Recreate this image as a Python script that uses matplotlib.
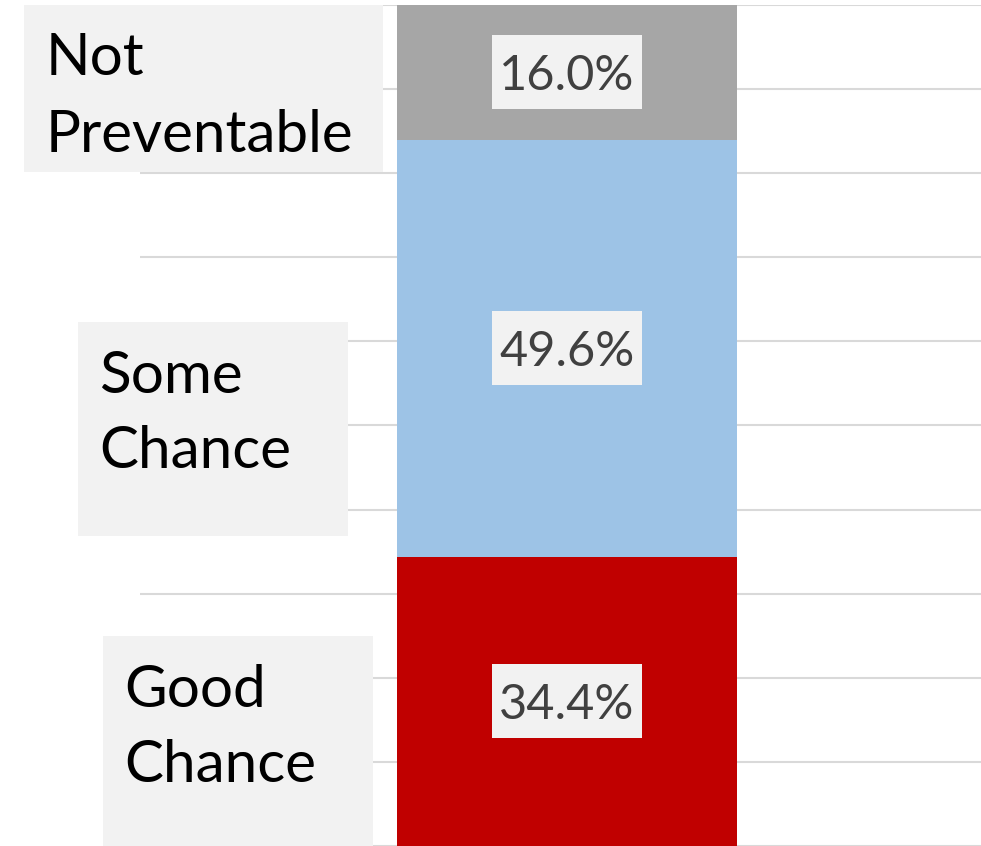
import matplotlib
matplotlib.use("Agg")
import matplotlib.pyplot as plt
from matplotlib.patches import Rectangle
from matplotlib.transforms import ScaledTranslation

plt.rcParams['font.family'] = ['Lato', 'DejaVu Sans']

categories = ["Good Chance", "Some Chance", "Not Preventable"]
label_lines = [["Good", "Chance"], ["Some", "Chance"], ["Not", "Preventable"]]
values = [34.4, 49.6, 16.0]
colors = ["#c00000", "#9dc3e6", "#a6a6a6"]
value_labels = ["34.4%", "49.6%", "16.0%"]

W, H = 981, 846
fig = plt.figure(figsize=(W / 100, H / 100), dpi=100)
ax = fig.add_axes([140 / W, 0, 841 / W, 841 / H])

bottom = 0
for v, c in zip(values, colors):
    ax.bar(0, v, width=0.6, bottom=bottom, color=c, zorder=2)
    bottom += v

ax.set_xlim(-0.7535, 0.7306)
ax.set_ylim(0, 100)
ax.set_yticks(range(0, 101, 10))
ax.yaxis.grid(True, color="#d9d9d9", linewidth=1.5)
ax.set_axisbelow(True)
ax.tick_params(left=False, bottom=False, labelleft=False, labelbottom=False)
for s in ax.spines.values():
    s.set_visible(False)

# value labels
bottom = 0
for v, lab in zip(values, value_labels):
    yc = bottom + v / 2
    ax.add_patch(Rectangle((-0.1315, yc - 4.4), 0.263, 8.8, facecolor="#f2f2f2",
                           edgecolor="none", zorder=3))
    tr = ax.transData + ScaledTranslation(0, -0.18, fig.dpi_scale_trans)
    ax.text(0, yc, lab, ha="center", va="baseline", fontsize=35, color="#404040",
            zorder=4, transform=tr)
    bottom += v

# category label boxes (pixel layout)
boxes = [(103, 636, 373, 846), (78, 322, 348, 536), (24, 5, 383, 172)]
text_pos = [(124, 707, 782), (99, 393, 468), (46, 75, 152)]
for (x0, y0, x1, y1), (tx, b1, b2), lines in zip(boxes, text_pos, label_lines):
    fig.patches.append(Rectangle((x0 / W, 1 - y1 / H), (x1 - x0) / W, (y1 - y0) / H,
                                 transform=fig.transFigure, facecolor="#f2f2f2",
                                 edgecolor="none", zorder=5))
    for line, b in zip(lines, (b1, b2)):
        fig.text(tx / W, 1 - b / H, line, ha="left", va="baseline", fontsize=42,
                 color="black", zorder=6)

fig.savefig("out.png", dpi=100)
